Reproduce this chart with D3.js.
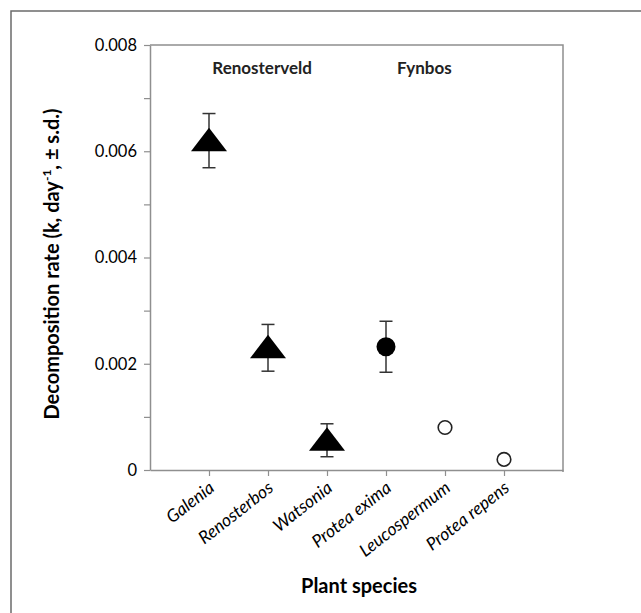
<!DOCTYPE html>
<html>
<head>
<meta charset="utf-8">
<script src="https://cdn.jsdelivr.net/npm/d3@7"></script>
<style>
  html, body { margin: 0; padding: 0; background: #fff; }
  svg { display: block; }
</style>
</head>
<body>
<script>
// ---- data ----
const categories = ["Galenia", "Renosterbos", "Watsonia", "Protea exima", "Leucospermum", "Protea repens"];
const values     = [0.0062, 0.0023, 0.00056, 0.00232, 0.0008, 0.0002];
const sds        = [0.00051, 0.00044, 0.00031, 0.00048, null, null];
const markers    = ["triangle", "triangle", "triangle", "filledCircle", "openCircle", "openCircle"];
const yTicks     = [0, 0.001, 0.002, 0.003, 0.004, 0.005, 0.006, 0.007, 0.008];
const yTickLabels = ["0", "", "0.002", "", "0.004", "", "0.006", "", "0.008"];
const groupLabels = [{ text: "Renosterveld", at: 1.9 }, { text: "Fynbos", at: 4.65 }];

const W = 641, H = 613;
const svg = d3.select("body").append("svg").attr("width", W).attr("height", H);
const FONT = "Lato, 'Open Sans', sans-serif";

// outer frame (left + top visible)
svg.append("path")
  .attr("d", `M11,${H} L11,11 L${W},11`)
  .attr("fill", "none").attr("stroke", "#6b6b6b").attr("stroke-width", 1.5);

const x = d3.scaleLinear().domain([0, categories.length + 1]).range([150, 563]);
const y = d3.scaleLinear().domain([0, 0.008]).range([470, 45]);

const axisColor = "#8f8f8f";

// plot frame top + right
svg.append("path")
  .attr("d", `M${x(0)},${y(0.008)} L${x(7)},${y(0.008)} L${x(7)},${y(0) + 2}`)
  .attr("fill", "none").attr("stroke", axisColor).attr("stroke-width", 1.5);

// y axis
const yAxis = d3.axisLeft(y)
  .tickValues(yTicks)
  .tickSize(6).tickPadding(7).tickSizeOuter(0)
  .tickFormat((d, i) => yTickLabels[i]);
const gy = svg.append("g").attr("transform", `translate(${x(0)},0)`).call(yAxis);
gy.select(".domain").attr("stroke", axisColor).attr("stroke-width", 1.5);
gy.selectAll(".tick line").attr("stroke", axisColor).attr("stroke-width", 1.2);
gy.selectAll(".tick text")
  .attr("font-family", FONT)
  .attr("font-size", 16.5).attr("fill", "#000");

// x axis
const xAxis = d3.axisBottom(x)
  .tickValues(categories.map((c, i) => i + 1))
  .tickSize(6).tickSizeOuter(0)
  .tickFormat((d) => categories[d - 1]);
const gx = svg.append("g").attr("transform", `translate(0,${y(0)})`).call(xAxis);
gx.select(".domain").attr("stroke", axisColor).attr("stroke-width", 1.5);
gx.selectAll(".tick line").attr("stroke", axisColor).attr("stroke-width", 1.2);
gx.selectAll(".tick text")
  .attr("font-family", FONT)
  .attr("font-style", "italic")
  .attr("font-size", 17.5).attr("fill", "#000")
  .attr("text-anchor", "end")
  .attr("dy", null).attr("y", null)
  .attr("transform", "translate(6,20) rotate(-38)");

// group labels
svg.selectAll("text.group").data(groupLabels).enter().append("text")
  .attr("class", "group")
  .attr("x", d => x(d.at)).attr("y", 74)
  .attr("text-anchor", "middle")
  .attr("font-family", FONT)
  .attr("font-weight", "bold").attr("font-size", 17).attr("fill", "#222")
  .text(d => d.text);

// error bars
const pts = categories.map((c, i) => ({ c, i, v: values[i], sd: sds[i], m: markers[i] }));
const eb = svg.append("g").attr("stroke", "#333").attr("stroke-width", 1.5);
pts.filter(d => d.sd != null).forEach(d => {
  const cx = x(d.i + 1), y1 = y(d.v + d.sd), y2 = y(d.v - d.sd);
  eb.append("line").attr("x1", cx).attr("x2", cx).attr("y1", y1).attr("y2", y2);
  eb.append("line").attr("x1", cx - 6.5).attr("x2", cx + 6.5).attr("y1", y1).attr("y2", y1);
  eb.append("line").attr("x1", cx - 6.5).attr("x2", cx + 6.5).attr("y1", y2).attr("y2", y2);
});

// markers
const mk = svg.append("g");
pts.forEach(d => {
  const cx = x(d.i + 1), cy = y(d.v);
  if (d.m === "triangle") {
    mk.append("path")
      .attr("d", `M${cx},${cy - 13} L${cx + 18},${cy + 10.5} L${cx - 18},${cy + 10.5} Z`)
      .attr("fill", "#000");
  } else if (d.m === "filledCircle") {
    mk.append("circle").attr("cx", cx).attr("cy", cy).attr("r", 9.5).attr("fill", "#000");
  } else {
    mk.append("circle").attr("cx", cx).attr("cy", cy).attr("r", 6.8)
      .attr("fill", "#fff").attr("stroke", "#222").attr("stroke-width", 1.6);
  }
});

// axis titles
svg.append("text")
  .attr("x", 359).attr("y", 593)
  .attr("text-anchor", "middle")
  .attr("font-family", FONT)
  .attr("font-weight", "bold").attr("font-size", 20).attr("fill", "#000")
  .text("Plant species");

const yt = svg.append("text")
  .attr("transform", "translate(59,264) rotate(-90)")
  .attr("text-anchor", "middle")
  .attr("font-family", FONT)
  .attr("font-weight", "bold").attr("font-size", 20).attr("fill", "#000");
yt.append("tspan").text("Decomposition rate (k, day");
yt.append("tspan").attr("font-size", 12).attr("dy", -8).text("-1");
yt.append("tspan").attr("dy", 8).text(", \u00b1 s.d.)");
</script>
</body>
</html>
